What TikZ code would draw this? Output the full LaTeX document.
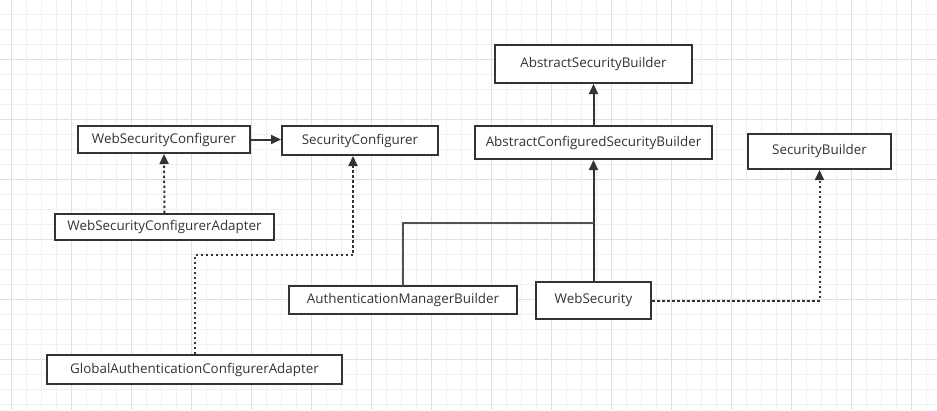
\documentclass[tikz,border=0pt]{standalone}
\usepackage{fontspec}
\setmainfont{Open Sans}
\usepackage{tikz}
\usetikzlibrary{arrows.meta, positioning, calc}
\definecolor{ink}{HTML}{333333}
\definecolor{grid-minor}{HTML}{F0F0F0}
\definecolor{grid-major}{HTML}{E0E0E0}

\begin{document}
\begin{tikzpicture}[x=1pt, y=-1pt,
        cls/.style={rectangle, draw=ink, line width=2pt, fill=white,
                    inner sep=0pt, text=ink, font=\fontsize{13.4}{16}\selectfont},
        arr/.style={-{Triangle[length=10pt, width=9pt]}, line width=2pt, ink},
        darr/.style={arr, dash pattern=on 2.5pt off 2.5pt},
        link/.style={line width=1.5pt, ink!85}]
        % background grid
        \useasboundingbox (0,0) rectangle (937,410);
        \fill[white] (0,0) rectangle (937,410);
        \foreach \i in {0,...,61}
          \draw[grid-minor, line width=1pt] ({11+15*\i},0) -- ++(0,410);
        \foreach \i in {0,...,26}
          \draw[grid-minor, line width=1pt] (0,{14+15*\i}) -- ++(937,0);
        \foreach \i in {0,...,15}
          \draw[grid-major, line width=1pt] ({11+60*\i},0) -- ++(0,410);
        \foreach \i in {0,...,5}
          \draw[grid-major, line width=1pt] (0,{59+60*\i}) -- ++(937,0);
        % classes
        \node[cls, minimum width=172pt, minimum height=27pt]
              (wsc) at (164,139.5) {WebSecurityConfigurer};
        \node[cls, minimum width=156pt, minimum height=29pt]
              (sc) at (360,140.5) {SecurityConfigurer};
        \node[cls, minimum width=219pt, minimum height=26pt]
              (wsca) at (164.5,227) {WebSecurityConfigurerAdapter};
        \node[cls, minimum width=197pt, minimum height=38pt]
              (asb) at (593.5,64) {AbstractSecurityBuilder};
        \node[cls, minimum width=237pt, minimum height=33pt]
              (acsb) at (593.5,142.5) {AbstractConfiguredSecurityBuilder};
        \node[cls, minimum width=143pt, minimum height=35pt]
              (sb) at (819.5,151.5) {SecurityBuilder};
        \node[cls, minimum width=228pt, minimum height=28pt]
              (amb) at (403,300) {AuthenticationManagerBuilder};
        \node[cls, minimum width=115pt, minimum height=37pt]
              (ws) at (593.5,300.5) {WebSecurity};
        \node[cls, minimum width=295pt, minimum height=29pt]
              (gaca) at (194.5,369.5) {GlobalAuthenticationConfigurerAdapter};
        % bend points
        \coordinate (scin) at (353,255);
        \coordinate (merge) at (593.5,223);
        % connectors
        \draw[arr] (wsc.east) -- (sc.west|-wsc.east);
        \draw[darr] (wsca.north) -- (wsc.south);
        \draw[darr] (gaca.north) |- (scin) -- (scin|-sc.south);
        \draw[arr] (acsb.north) -- (asb.south);
        \draw[arr] (ws.north) -- (acsb.south);
        \draw[link] (amb.north) |- (merge);
        \draw[darr] (ws.east) -| (sb.south);
      \end{tikzpicture}
\end{document}
